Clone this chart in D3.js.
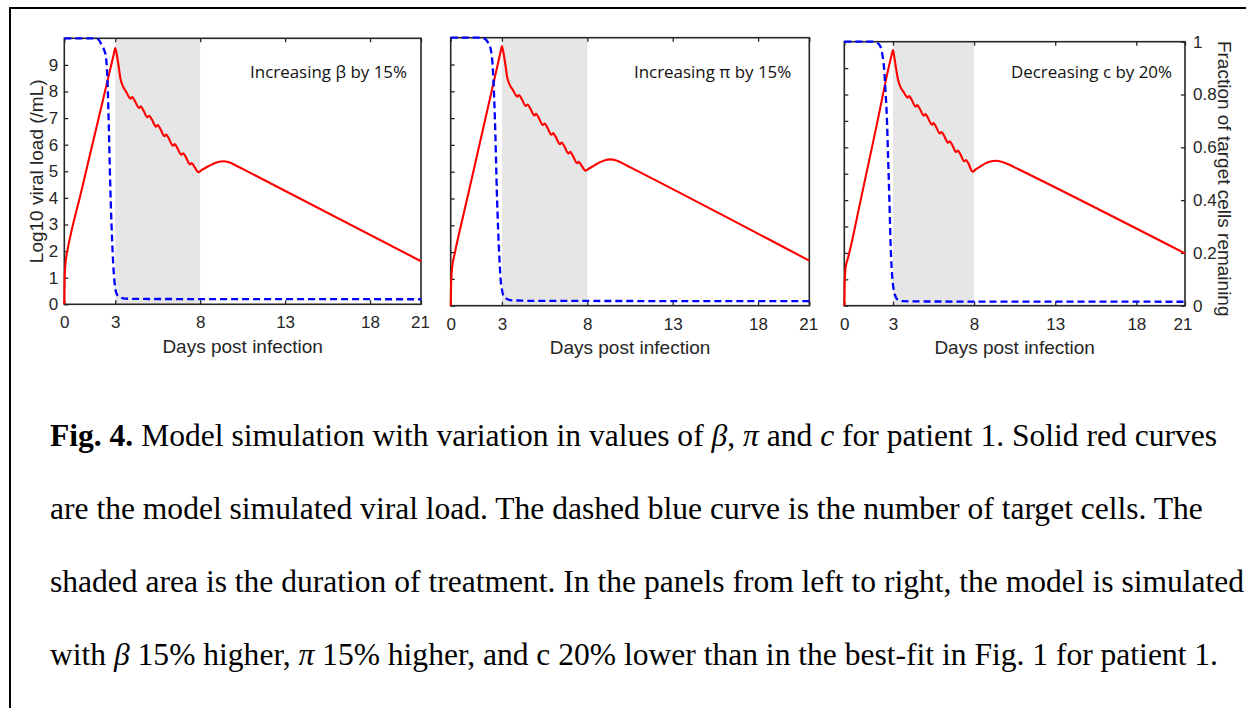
<!DOCTYPE html>
<html><head><meta charset="utf-8">
<script src="https://cdn.jsdelivr.net/npm/d3@7"></script>
<style>body{margin:0;background:#fff}</style>
</head><body><svg id="c" width="1246" height="708"></svg>
<script>
// ---------- data ----------
const dayTicks = [0, 3, 8, 13, 18, 21];
const vlTicks = [0, 1, 2, 3, 4, 5, 6, 7, 8, 9];
const fracTicks = [0, 0.2, 0.4, 0.6, 0.8, 1];
const fracTickLabels = ["0", "0.2", "0.4", "0.6", "0.8", "1"];
const treatment = [3, 8];
const panelLabels = ["Increasing β by 15%", "Increasing π by 15%", "Decreasing c by 20%"];

// viral load (log10 /mL) sampled days
const tVL = [0, 0.02, 0.06, 0.12, 0.2, 1.0, 2.0, 2.9, 3.0, 3.1, 3.2, 3.3, 3.45, 3.65, 3.8, 3.9, 4.0, 4.15,
  4.4, 4.5, 4.65, 4.9, 5.0, 5.15, 5.4, 5.5, 5.65, 5.9, 6.0, 6.15, 6.4, 6.5, 6.65, 6.9, 7.0, 7.15,
  7.4, 7.5, 7.65, 7.9, 8.1, 8.4, 8.7, 9.0, 9.35, 9.7, 10.1, 10.5, 21];
const vlBeta = [0, 0.9, 1.45, 1.8, 2.08, 4.24, 6.94, 9.36, 9.63, 9.35, 8.95, 8.5, 8.2, 7.98, 7.8, 7.73, 7.79, 7.65,
  7.38, 7.44, 7.3, 7.03, 7.09, 6.95, 6.68, 6.74, 6.6, 6.32, 6.38, 6.24, 5.96, 6.02, 5.88, 5.62, 5.68, 5.54,
  5.26, 5.31, 5.18, 4.97, 5.05, 5.16, 5.26, 5.34, 5.38, 5.34, 5.22, 5.09, 1.62];
const vlPi = [0, 0.7, 1.25, 1.6, 1.85, 4.09, 6.89, 9.41, 9.69, 9.4, 9.0, 8.55, 8.25, 8.04, 7.87, 7.8, 7.86, 7.72,
  7.45, 7.51, 7.37, 7.1, 7.16, 7.02, 6.74, 6.8, 6.66, 6.38, 6.44, 6.3, 6.03, 6.09, 5.95, 5.68, 5.74, 5.6,
  5.32, 5.37, 5.24, 5.04, 5.12, 5.23, 5.34, 5.42, 5.46, 5.42, 5.3, 5.17, 1.68];
const vlC = [0, 0.75, 1.3, 1.58, 1.75, 3.97, 6.85, 9.45, 9.68, 9.35, 8.95, 8.6, 8.3, 8.1, 7.95, 7.88, 7.94, 7.8,
  7.54, 7.6, 7.46, 7.2, 7.26, 7.12, 6.86, 6.92, 6.78, 6.52, 6.58, 6.44, 6.17, 6.23, 6.09, 5.82, 5.88, 5.74,
  5.47, 5.52, 5.39, 5.08, 5.16, 5.28, 5.39, 5.46, 5.49, 5.45, 5.36, 5.24, 1.98];

// fraction of target cells remaining
const tTC = [0, 1.8, 2.0, 2.2, 2.35, 2.45, 2.55, 2.62, 2.7, 2.78, 2.85, 2.92, 3.0, 3.1, 3.3, 3.6, 5, 21];
const tcBeta = [1, 1, 0.996, 0.975, 0.955, 0.93, 0.83, 0.67, 0.46, 0.3, 0.19, 0.11, 0.06, 0.037, 0.026, 0.021, 0.02, 0.019];
const tcPi = [1, 1, 0.996, 0.98, 0.955, 0.9, 0.77, 0.63, 0.43, 0.28, 0.18, 0.1, 0.06, 0.036, 0.025, 0.02, 0.018, 0.017];
const tcC = [1, 1, 0.997, 0.985, 0.95, 0.9, 0.8, 0.72, 0.56, 0.4, 0.24, 0.14, 0.08, 0.045, 0.022, 0.017, 0.016, 0.015];

const vlSeries = [vlBeta, vlPi, vlC];
const tcSeries = [tcBeta, tcPi, tcC];

// ---------- layout ----------
const panels = [
  {L: 64.3, R: 421, T: 38.3, B: 304.3, leftLabels: true, rightLabels: false, labelInset: 14, lastDx: -1},
  {L: 450.7, R: 809.3, T: 37.7, B: 305.7, leftLabels: false, rightLabels: false, labelInset: 18, lastDx: -1},
  {L: 844.3, R: 1185, T: 41.7, B: 305.7, leftLabels: false, rightLabels: true, labelInset: 13, lastDx: -2.5}
];
const axisFont = "'Liberation Sans', Arial, Helvetica, sans-serif";
const axisColor = "#262626";

const svg = d3.select("#c");
svg.append("rect").attr("width", 1246).attr("height", 708).attr("fill", "#fff");

// outer frame (top and left)
svg.append("line").attr("x1", 9).attr("x2", 1246).attr("y1", 8).attr("y2", 8).attr("stroke", "#000").attr("stroke-width", 2);
svg.append("line").attr("x1", 10).attr("x2", 10).attr("y1", 7).attr("y2", 708).attr("stroke", "#000").attr("stroke-width", 2);

panels.forEach((p, i) => {
  const g = svg.append("g");
  const x = d3.scaleLinear().domain([0, 21]).range([p.L, p.R]);
  const yL = d3.scaleLinear().domain([0, 10]).range([p.B, p.T]);
  const yR = d3.scaleLinear().domain([0, 1]).range([p.B, p.T]);

  // treatment shading
  g.append("rect").attr("x", x(treatment[0])).attr("y", p.T)
    .attr("width", x(treatment[1]) - x(treatment[0])).attr("height", p.B - p.T)
    .attr("fill", "#e6e6e6");

  // box
  g.append("rect").attr("x", p.L).attr("y", p.T).attr("width", p.R - p.L).attr("height", p.B - p.T)
    .attr("fill", "none").attr("stroke", axisColor).attr("stroke-width", 1.6);

  // bottom axis
  const xb = d3.axisBottom(x).tickValues(dayTicks).tickSize(-4).tickPadding(12).tickFormat(d3.format("d"));
  const gxb = g.append("g").attr("transform", `translate(0,${p.B})`).call(xb);
  gxb.selectAll(".tick").filter(d => d === 21).select("text").attr("dx", p.lastDx);
  // top ticks
  const xt = d3.axisTop(x).tickValues(dayTicks).tickSize(-4).tickFormat("");
  const gxt = g.append("g").attr("transform", `translate(0,${p.T})`).call(xt);
  // left axis
  const yl = d3.axisLeft(yL).tickValues(vlTicks).tickSize(-4).tickPadding(6)
    .tickFormat(p.leftLabels ? d3.format("d") : "");
  const gyl = g.append("g").attr("transform", `translate(${p.L},0)`).call(yl);
  const axes = [gxb, gxt, gyl];
  if (p.rightLabels) {
    const yr = d3.axisRight(yR).tickValues(fracTicks).tickSize(-4).tickPadding(8)
      .tickFormat((d, k) => fracTickLabels[k]);
    axes.push(g.append("g").attr("transform", `translate(${p.R},0)`).call(yr));
  }
  axes.forEach(a => {
    a.select(".domain").remove();
    a.selectAll("line").attr("stroke", axisColor).attr("stroke-width", 1.3);
    a.selectAll("text").attr("fill", axisColor).style("font-family", axisFont).style("font-size", "17px");
  });

  // x title
  g.append("text").attr("x", (p.L + p.R) / 2).attr("y", p.B + 48.5).attr("text-anchor", "middle")
    .style("font-family", axisFont).style("font-size", "19px").attr("fill", axisColor)
    .text("Days post infection");

  // viral load line
  const vl = vlSeries[i];
  const lineVL = d3.line().x((d, k) => x(tVL[k])).y(d => yL(d)).curve(d3.curveMonotoneX);
  g.append("path").datum(vl).attr("d", lineVL).attr("fill", "none")
    .attr("stroke", "#ff0000").attr("stroke-width", 2.1).attr("stroke-linejoin", "round");

  // target cells line
  const tc = tcSeries[i];
  const lineTC = d3.line().x((d, k) => x(tTC[k])).y(d => yR(d)).curve(d3.curveMonotoneX);
  g.append("path").datum(tc).attr("d", lineTC).attr("fill", "none")
    .attr("stroke", "#0000ff").attr("stroke-width", 2.3).attr("stroke-dasharray", "7,4");

  // annotation
  g.append("text").attr("class", "ann").attr("x", p.R - p.labelInset).attr("y", 78.3)
    .attr("text-anchor", "end").style("font-family", "'Open Sans', 'Noto Sans', sans-serif")
    .style("font-size", "15px").attr("fill", "#111").text(panelLabels[i]);
});

// fit annotation font to measured width
{
  const first = svg.select(".ann").node();
  const w = first.getComputedTextLength();
  const fs = 15 * 157 / w;
  svg.selectAll(".ann").style("font-size", fs.toFixed(2) + "px");
}

// y titles
svg.append("text").attr("transform", `translate(43,${(38.3 + 304.3) / 2}) rotate(-90)`)
  .attr("text-anchor", "middle").style("font-family", axisFont).style("font-size", "19px")
  .attr("fill", axisColor).text("Log10 viral load (/mL)");
svg.append("text").attr("transform", `translate(1218,${(41.7 + 305.7) / 2 + 5}) rotate(90)`)
  .attr("text-anchor", "middle").style("font-family", axisFont).style("font-size", "19px")
  .attr("fill", axisColor).text("Fraction of target cells remaining");

// ---------- caption ----------
const captionLines = [
  [["b", "Fig. 4."], ["n", " Model simulation with variation in values of "], ["i", "β"], ["n", ", "], ["i", "π"], ["n", " and "], ["i", "c"], ["n", " for patient 1. Solid red curves"]],
  [["n", "are the model simulated viral load. The dashed blue curve is the number of target cells. The"]],
  [["n", "shaded area is the duration of treatment. In the panels from left to right, the model is simulated"]],
  [["n", "with "], ["i", "β"], ["n", " 15% higher, "], ["i", "π"], ["n", " 15% higher, and c 20% lower than in the best-fit in Fig. 1 for patient 1."]]
];
const capBase = [446, 519, 592, 665];
const capX = 50;
const cap = svg.append("g").style("font-family", "'Liberation Serif', 'Times New Roman', serif").attr("fill", "#000");
const capTexts = captionLines.map((parts, li) => {
  const t = cap.append("text").attr("x", capX).attr("y", capBase[li]).style("font-size", "32px");
  parts.forEach(([k, s]) => {
    const ts = t.append("tspan").text(s);
    if (k === "b") ts.attr("font-weight", "bold");
    if (k === "i") ts.attr("font-style", "italic");
  });
  return t;
});
{
  const w = capTexts[3].node().getComputedTextLength();
  const fs = 32 * (1218 - capX) / w;
  capTexts.forEach(t => t.style("font-size", fs.toFixed(2) + "px"));
}
</script></body></html>
